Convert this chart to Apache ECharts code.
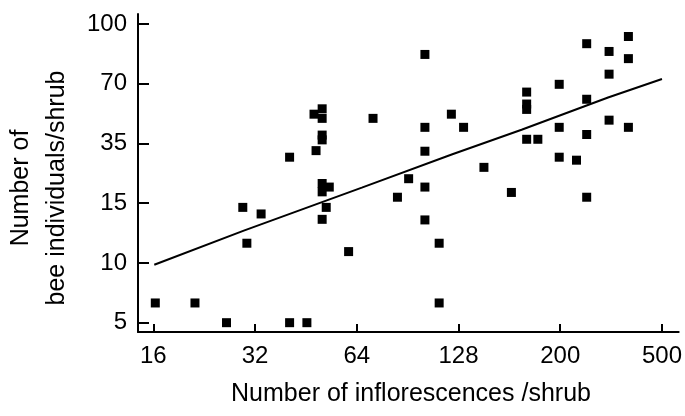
<!DOCTYPE html>
<html>
<head>
<meta charset="utf-8">
<script src="https://cdn.jsdelivr.net/npm/echarts@6/dist/echarts.min.js"></script>
<style>
  html, body { margin: 0; padding: 0; background: #fff; }
  #chart { width: 685px; height: 416px; }
</style>
</head>
<body>
<div id="chart"></div>
<script>
// Both axes use evenly spaced tick marks; positions below are given on that
// tick scale (0 = first tick, 1 = second tick, ...).
const xTickLabels = ['16', '32', '64', '128', '200', '500'];
const yTickLabels = ['5', '10', '15', '35', '70', '100'];

// Shrubs: inflorescence position (x) and bee-count position (y)
const shrubX = [
  0.02, 0.41, 0.72, 1.34, 1.51, 0.88, 1.06, 0.92, 1.34, 1.58,
  1.66, 1.66, 1.66, 1.66, 1.60, 1.66, 1.66, 1.73, 1.70, 1.66,
  1.92, 2.16, 2.40, 2.51, 2.67, 2.67, 2.67, 2.67, 2.67, 2.81,
  2.81, 2.93, 3.05, 3.25, 3.52, 3.67, 3.67, 3.67, 3.67, 3.78,
  3.99, 3.99, 3.99, 4.16, 4.26, 4.26, 4.26, 4.26, 4.48, 4.48,
  4.48, 4.67, 4.67, 4.67
];
const shrubY = [
  0.33, 0.33, 0.00, 0.00, 0.00, 1.93, 1.82, 1.33, 2.77, 3.49,
  3.58, 3.42, 3.14, 3.06, 2.88, 2.33, 2.19, 2.27, 1.93, 1.73,
  1.19, 3.42, 2.10, 2.41, 4.49, 3.27, 2.87, 2.27, 1.72, 1.33,
  0.33, 3.49, 3.27, 2.60, 2.18, 3.86, 3.66, 3.57, 3.07, 3.07,
  3.99, 3.27, 2.77, 2.72, 4.67, 3.74, 3.15, 2.10, 4.54, 4.16,
  3.39, 4.79, 4.42, 3.27
];

// Fitted trend line
const fitX = [0.01, 0.89, 2.05, 2.94, 3.62, 4.47, 5.00];
const fitY = [0.97, 1.54, 2.26, 2.82, 3.23, 3.77, 4.08];

const tickPositions = xTickLabels.map((_, i) => i);
const FONT = 'Liberation Sans, Arial, sans-serif';

const chart = echarts.init(document.getElementById('chart'), null, { renderer: 'canvas' });

chart.setOption({
  animation: false,
  backgroundColor: '#ffffff',
  grid: { left: 138, right: 5, top: 14, bottom: 84, containLabel: false },
  xAxis: {
    type: 'value',
    min: -0.15,
    max: 5.164,
    splitLine: { show: false },
    axisLine: { show: true, onZero: false, lineStyle: { color: '#000', width: 2 } },
    axisTick: {
      show: true, inside: true, length: 8,
      customValues: tickPositions,
      lineStyle: { color: '#000', width: 2 }
    },
    axisLabel: {
      customValues: tickPositions,
      formatter: v => xTickLabels[Math.round(v)],
      color: '#000', fontFamily: FONT, fontSize: 24, margin: 12
    }
  },
  yAxis: {
    type: 'value',
    min: -0.156,
    max: 5.167,
    splitLine: { show: false },
    axisLine: { show: true, onZero: false, lineStyle: { color: '#000', width: 2 } },
    axisTick: {
      show: true, inside: true, length: 11,
      customValues: tickPositions,
      lineStyle: { color: '#000', width: 2 }
    },
    axisLabel: {
      customValues: tickPositions,
      formatter: v => yTickLabels[Math.round(v)],
      color: '#000', fontFamily: FONT, fontSize: 24, margin: 11
    }
  },
  graphic: [
    {
      type: 'text', x: 411, y: 394, silent: true,
      style: {
        text: 'Number of inflorescences /shrub',
        fill: '#000', font: '25px ' + FONT,
        textAlign: 'center', textVerticalAlign: 'middle'
      }
    },
    {
      type: 'text', x: 39, y: 188, rotation: Math.PI / 2, silent: true,
      style: {
        text: 'Number of\nbee individuals/shrub',
        fill: '#000', font: '25px ' + FONT, lineHeight: 36,
        textAlign: 'center', textVerticalAlign: 'middle'
      }
    }
  ],
  series: [
    {
      type: 'line',
      data: fitX.map((x, i) => [x, fitY[i]]),
      showSymbol: false,
      lineStyle: { color: '#000', width: 2 },
      z: 2
    },
    {
      type: 'scatter',
      data: shrubX.map((x, i) => [x, shrubY[i]]),
      symbol: 'rect',
      symbolSize: 9,
      itemStyle: { color: '#000', opacity: 1 },
      z: 3
    }
  ]
});
</script>
</body>
</html>
